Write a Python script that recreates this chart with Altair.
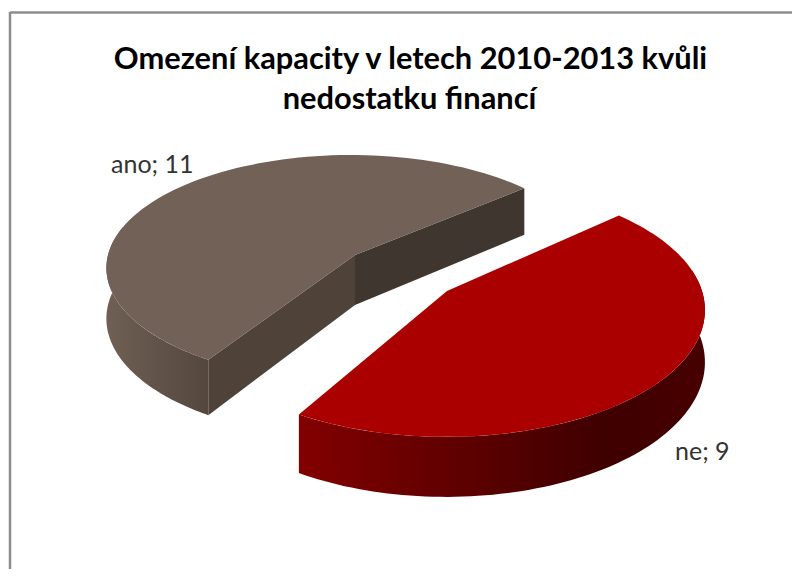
import math
import altair as alt
import pandas as pd

categories = ["ano", "ne"]
values = [11, 9]
title_lines = ["Omezení kapacity v letech 2010-2013 kvůli", "nedostatku financí"]

total = sum(values)
span = [v / total * 360 for v in values]

# perspective model of each exploded slice: apex px, rx, ry, k, depth, rim shift
GEOM = {
    "ano": dict(cx=355, cy=255, a=243, b=111.5, k=0.115, d=50, sx=-4),
    "ne": dict(cx=447, cy=291, a=256, b=124, k=0.15, d=51, sx=-1),
}
START_ANO = 40.0
START_NE = 42.0


def proj(g, deg, r=1.0, down=False):
    u = r * math.cos(math.radians(deg))
    v = r * math.sin(math.radians(deg))
    w = 1 + g["k"] * v
    x = g["cx"] + g["sx"] * r + g["a"] * u / w
    y = g["cy"] - g["b"] * v / w
    if down:
        y += g["d"] / w
    return x, y


def arc(g, a0, a1, down=False, n=90):
    return [proj(g, a0 + (a1 - a0) * i / n, 1.0, down) for i in range(n + 1)]


def face(points):
    return pd.DataFrame([{"x": p[0], "y": p[1], "i": i} for i, p in enumerate(points)])


def poly(points, fill):
    return (
        alt.Chart(face(points))
        .mark_line(fill=fill, strokeWidth=0, strokeOpacity=0, interpolate="linear", clip=False)
        .encode(
            x=alt.X("x:Q", scale=alt.Scale(domain=[8, 792], nice=False, zero=False), axis=None),
            y=alt.Y("y:Q", scale=alt.Scale(domain=[569, 8], nice=False, zero=False), axis=None),
            order="i:Q",
        )
    )


def grad(stops):
    return alt.Gradient(
        gradient="linear", x1=0, x2=1, y1=0, y2=0,
        stops=[alt.GradientStop(offset=o, color=c) for o, c in stops],
    )


an = GEOM["ano"]
a_end = START_ANO + span[0]
ne = GEOM["ne"]
n_end = START_NE - span[1]
an_apex, an_apex_d = proj(an, 0, 0), proj(an, 0, 0, True)
ne_apex = proj(ne, 0, 0)

layers = [
    poly(arc(an, 165, a_end) + arc(an, a_end, 165, True),
         grad([(0, "#6f5f55"), (1, "#54473d")])),
    poly([an_apex, proj(an, START_ANO), proj(an, START_ANO, 1, True), an_apex_d], "#3f362f"),
    poly([an_apex, proj(an, a_end), proj(an, a_end, 1, True), an_apex_d], "#4f4239"),
    poly([an_apex] + arc(an, START_ANO, a_end), "#716157"),
    poly(arc(ne, 10, n_end) + arc(ne, n_end, 10, True),
         grad([(0, "#820000"), (0.75, "#3f0000"), (1, "#470000")])),
    poly([ne_apex] + arc(ne, START_NE, n_end), "#ab0000"),
]

FONT = "Lato"
border = (
    alt.Chart(pd.DataFrame({"k": [0]}))
    .mark_rule(color="#8c8c8c", strokeWidth=2.5)
)
layers.append(border.encode(x=alt.value(2), x2=alt.value(784), y=alt.value(4.5)))
layers.append(border.encode(x=alt.value(2), y=alt.value(4), y2=alt.value(561)))

for line, cx, by in [(title_lines[0], 402.5, 61), (title_lines[1], 401.5, 101)]:
    layers.append(
        alt.Chart(pd.DataFrame({"t": [line]}))
        .mark_text(font=FONT, fontWeight="bold", fontSize=30.8, color="#000000", align="center", baseline="alphabetic")
        .encode(text="t:N", x=alt.value(cx), y=alt.value(by))
    )

for cat, val, lx, ly in [(categories[0], values[0], 103, 165), (categories[1], values[1], 667, 451.5)]:
    layers.append(
        alt.Chart(pd.DataFrame({"t": [f"{cat}; {val}"]}))
        .mark_text(font=FONT, fontSize=25, color="#333333", align="left", baseline="alphabetic")
        .encode(text="t:N", x=alt.value(lx), y=alt.value(ly))
    )

chart = (
    alt.layer(*layers)
    .properties(width=784, height=561, padding=0, autosize=alt.AutoSizeParams(type="none"), background="white")
    .configure_view(stroke=None)
)
chart.save("out.html", embed_options={"renderer": "svg", "actions": False})
